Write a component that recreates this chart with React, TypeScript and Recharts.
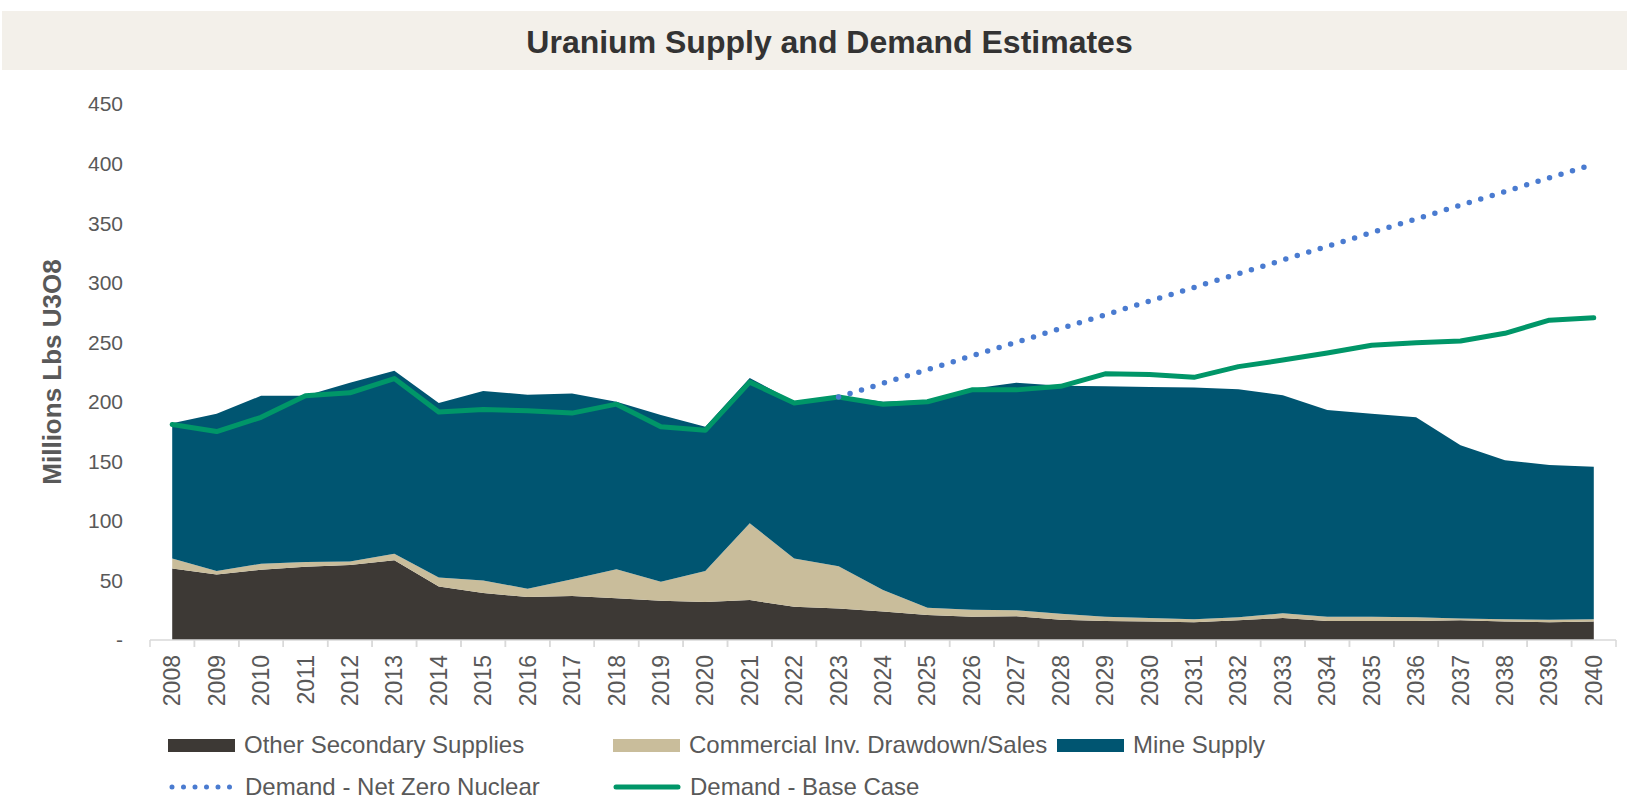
import { ComposedChart, Area, Line, XAxis, YAxis } from "recharts";

const years = [
  "2008", "2009", "2010", "2011", "2012", "2013", "2014", "2015", "2016", "2017", "2018",
  "2019", "2020", "2021", "2022", "2023", "2024", "2025", "2026", "2027", "2028", "2029",
  "2030", "2031", "2032", "2033", "2034", "2035", "2036", "2037", "2038", "2039", "2040",
];

const otherSecondary = [
  60, 55, 59, 61.5, 63, 67, 45, 39.5, 36, 37, 35, 33, 32, 33.5, 28, 26.5, 24, 21, 19.5, 20,
  17, 16, 15.5, 15, 16.5, 18.5, 16, 16, 16, 16.5, 15.5, 15, 15.5,
];

const commercialInv = [
  8.5, 3, 5, 4, 3, 5.5, 7.5, 10.5, 7, 14, 24.5, 16, 26, 64.5, 40.5, 35.5, 18, 6, 6, 5, 5,
  3.5, 3, 2.5, 2.5, 4, 3.5, 3.5, 3, 1.5, 2, 2, 2,
];

const mineSupply = [
  113.5, 132, 141, 139.5, 150, 153.5, 146.5, 159, 163, 156, 140.5, 140, 121, 122, 131.5, 143,
  158, 174.5, 185.5, 191, 191.5, 193.5, 194, 194.5, 191.5, 183, 173.5, 170.5, 168, 145.5,
  133.5, 130, 128,
];

const demandNetZero = [
  null, null, null, null, null, null, null, null, null, null, null, null, null, null, null,
  204, 215.5, 227, 238.5, 250, 261.5, 273, 284.5, 296, 307.5, 319, 330.5, 342, 353.5, 365,
  376.5, 388, 399.5,
];

const demandBase = [
  181, 175, 187, 205, 207.5, 219.5, 191.5, 193.5, 192.5, 190.5, 198, 179, 176, 216.5, 199,
  204, 198, 200, 210, 210, 213, 223.5, 223, 220.5, 229.5, 235, 241, 247.5, 249.5, 251, 257.5,
  268.5, 270.5,
];

const yTicks = [0, 50, 100, 150, 200, 250, 300, 350, 400, 450];

const data = years.map((year, i) => ({
  year,
  other: otherSecondary[i],
  commercial: commercialInv[i],
  mine: mineSupply[i],
  netZero: demandNetZero[i],
  base: demandBase[i],
}));

const FONT = '"Liberation Sans", Arial, sans-serif';
const W = 1627;
const H = 797;
const PLOT_LEFT = 150;
const PLOT_RIGHT = 1616;
const HALF_STEP = (PLOT_RIGHT - PLOT_LEFT) / years.length / 2;

const legendRows = [
  [
    { name: "Other Secondary Supplies", color: "#3d3935", kind: "box", left: 168 },
    { name: "Commercial Inv. Drawdown/Sales", color: "#c9bd9b", kind: "box", left: 613 },
    { name: "Mine Supply", color: "#005571", kind: "box", left: 1057 },
  ],
  [
    { name: "Demand - Net Zero Nuclear", color: "#4a7bd0", kind: "dots", left: 168 },
    { name: "Demand - Base Case", color: "#009668", kind: "line", left: 613 },
  ],
];

function YearTick({ x, y, payload }: any) {
  return (
    <g>
      <line x1={x - HALF_STEP} x2={x - HALF_STEP} y1={y} y2={y + 7} stroke="#d9d9d9" strokeWidth={1.5} />
      <line x1={x + HALF_STEP} x2={x + HALF_STEP} y1={y} y2={y + 7} stroke="#d9d9d9" strokeWidth={1.5} />
      <text
        transform={`translate(${x},${y}) rotate(-90)`}
        x={-15}
        dy="0.35em"
        textAnchor="end"
        fontSize={23}
        fontFamily={FONT}
        fill="#595959"
      >
        {payload.value}
      </text>
    </g>
  );
}

function LegendSwatch({ kind, color }: { kind: string; color: string }) {
  if (kind === "box") {
    return <div style={{ width: 67, height: 13, background: color }} />;
  }
  return (
    <svg width={68} height={14}>
      {kind === "dots" ? (
        <line x1={4} x2={66} y1={7} y2={7} stroke={color} strokeWidth={5} strokeDasharray="0 11.5" strokeLinecap="round" />
      ) : (
        <line x1={3} x2={65} y1={7} y2={7} stroke={color} strokeWidth={5} strokeLinecap="round" />
      )}
    </svg>
  );
}

export default function App() {
  return (
    <div style={{ position: "absolute", left: 0, top: 0, width: W, height: H, background: "#fff", fontFamily: FONT }}>
      <div
        style={{
          position: "absolute",
          left: 2,
          top: 11,
          width: W - 2,
          height: 59,
          background: "#f3f0ea",
        }}
      />
      <div
        style={{
          position: "absolute",
          left: 16,
          top: 13,
          width: W,
          height: 59,
          lineHeight: "59px",
          textAlign: "center",
          fontSize: 32,
          fontWeight: "bold",
          color: "#333333",
        }}
      >
        Uranium Supply and Demand Estimates
      </div>

      <div style={{ position: "absolute", left: 0, top: 0 }}>
        <ComposedChart
          width={W}
          height={H}
          data={data}
          margin={{ top: 104, right: W - PLOT_RIGHT, left: 30, bottom: 97 }}
        >
          <XAxis
            dataKey="year"
            height={60}
            interval={0}
            padding={{ left: HALF_STEP, right: HALF_STEP }}
            axisLine={{ stroke: "#d9d9d9", strokeWidth: 1.5 }}
            tickLine={false}
            tickSize={0}
            tickMargin={0}
            tick={<YearTick />}
          />
          <YAxis
            width={120}
            domain={[0, 450]}
            ticks={yTicks}
            interval={0}
            axisLine={false}
            tickLine={false}
            tickSize={0}
            tickMargin={27}
            tickFormatter={(v: number) => (v === 0 ? "-" : String(v))}
            tick={{ fontSize: 21, fontFamily: FONT, fill: "#595959" }}
            label={{
              content: ({ viewBox }: any) => {
                const cx = viewBox.x + 22;
                const cy = viewBox.y + viewBox.height / 2;
                return (
                  <text
                    x={cx}
                    y={cy}
                    transform={`rotate(-90, ${cx}, ${cy})`}
                    textAnchor="middle"
                    dominantBaseline="central"
                    fontSize={26}
                    fontWeight="bold"
                    fontFamily={FONT}
                    fill="#595959"
                  >
                    Millions Lbs U3O8
                  </text>
                );
              },
            }}
          />
          <Area
            type="linear"
            dataKey="other"
            name="Other Secondary Supplies"
            stackId="supply"
            stroke="none"
            fill="#3d3935"
            fillOpacity={1}
            isAnimationActive={false}
          />
          <Area
            type="linear"
            dataKey="commercial"
            name="Commercial Inv. Drawdown/Sales"
            stackId="supply"
            stroke="none"
            fill="#c9bd9b"
            fillOpacity={1}
            isAnimationActive={false}
          />
          <Area
            type="linear"
            dataKey="mine"
            name="Mine Supply"
            stackId="supply"
            stroke="none"
            fill="#005571"
            fillOpacity={1}
            isAnimationActive={false}
          />
          <Line
            type="linear"
            dataKey="base"
            name="Demand - Base Case"
            stroke="#009668"
            strokeWidth={5}
            strokeLinejoin="round"
            strokeLinecap="round"
            dot={false}
            activeDot={false}
            isAnimationActive={false}
          />
          <Line
            type="linear"
            dataKey="netZero"
            name="Demand - Net Zero Nuclear"
            stroke="#4a7bd0"
            strokeWidth={5.5}
            strokeDasharray="0 12"
            strokeLinecap="round"
            dot={false}
            activeDot={false}
            isAnimationActive={false}
          />
        </ComposedChart>
      </div>

      {legendRows.map((row, r) =>
        row.map((item) => (
          <div
            key={item.name}
            style={{
              position: "absolute",
              left: item.left,
              top: (r === 0 ? 745 : 787) - 14,
              height: 28,
              display: "flex",
              alignItems: "center",
              gap: 9,
              fontSize: 24,
              color: "#595959",
              whiteSpace: "nowrap",
            }}
          >
            <LegendSwatch kind={item.kind} color={item.color} />
            <span>{item.name}</span>
          </div>
        ))
      )}
    </div>
  );
}
